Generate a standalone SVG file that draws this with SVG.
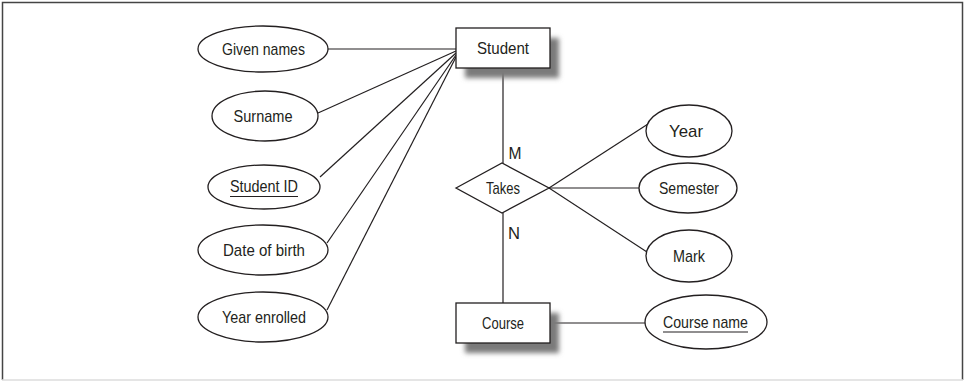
<svg xmlns="http://www.w3.org/2000/svg" width="964" height="381" viewBox="0 0 964 381">
  <defs>
    <filter id="blur" x="-20%" y="-30%" width="140%" height="160%">
      <feGaussianBlur stdDeviation="2.5"/>
    </filter>
    <style>
      .shape { fill: #ffffff; stroke: #231f20; stroke-width: 1.3; }
      .conn { stroke: #231f20; stroke-width: 1.2; fill: none; }
      .lbl { font-family: "Liberation Sans", Arial, sans-serif; font-size: 17px; fill: #231f20; text-anchor: middle; }
      .ul { stroke: #231f20; stroke-width: 1.1; }
      .shadow { fill: #7a7a7a; filter: url(#blur); }
    </style>
  </defs>
  <rect x="0" y="0" width="964" height="381" fill="#ffffff"/>
  <path d="M2.5 380 L2.5 2.5 L962.5 2.5 L962.5 380" fill="none" stroke="#444444" stroke-width="1.5"/>
  <line x1="2" y1="380" x2="963" y2="380" stroke="#dddddd" stroke-width="1.5"/>

  <g id="connectors">
    <line class="conn" x1="328" y1="49" x2="456" y2="49"/>
    <line class="conn" x1="318" y1="113" x2="456" y2="51"/>
    <line class="conn" x1="320" y1="177" x2="456" y2="53"/>
    <line class="conn" x1="327" y1="243" x2="456" y2="55"/>
    <line class="conn" x1="327" y1="310" x2="456" y2="57"/>
    <line class="conn" x1="503" y1="68" x2="503" y2="163"/>
    <line class="conn" x1="503" y1="213" x2="503" y2="303"/>
    <line class="conn" x1="549" y1="188" x2="648" y2="124"/>
    <line class="conn" x1="549" y1="188" x2="639" y2="188"/>
    <line class="conn" x1="549" y1="188" x2="647" y2="252"/>
    <line class="conn" x1="551" y1="323" x2="645" y2="323"/>
    <text class="lbl" x="515" y="159" textLength="13" lengthAdjust="spacingAndGlyphs">M</text>
    <text class="lbl" x="514" y="239" textLength="12" lengthAdjust="spacingAndGlyphs">N</text>
  </g>

  <g id="student">
    <rect class="shadow" x="465" y="38" width="94" height="40"/>
    <rect class="shape" x="456" y="28" width="94" height="40"/>
    <text class="lbl" x="503" y="54" textLength="52" lengthAdjust="spacingAndGlyphs">Student</text>
  </g>

  <g id="course">
    <rect class="shadow" x="465" y="313" width="94" height="40"/>
    <rect class="shape" x="456" y="303" width="94" height="40"/>
    <text class="lbl" x="503" y="329" textLength="42" lengthAdjust="spacingAndGlyphs">Course</text>
  </g>

  <g id="takes">
    <polygon class="shape" points="456,188 502,163 549,188 502,213"/>
    <text class="lbl" x="503" y="194" textLength="34" lengthAdjust="spacingAndGlyphs">Takes</text>
  </g>

  <g id="given-names">
    <ellipse class="shape" cx="263" cy="49" rx="65" ry="23"/>
    <text class="lbl" x="263.5" y="55" textLength="83" lengthAdjust="spacingAndGlyphs">Given names</text>
  </g>

  <g id="surname">
    <ellipse class="shape" cx="265" cy="116" rx="53" ry="25"/>
    <text class="lbl" x="263" y="122" textLength="59" lengthAdjust="spacingAndGlyphs">Surname</text>
  </g>

  <g id="student-id">
    <ellipse class="shape" cx="264" cy="187" rx="56" ry="22"/>
    <text class="lbl" x="264" y="192" textLength="68" lengthAdjust="spacingAndGlyphs">Student ID</text>
    <line class="ul" x1="230" y1="196.5" x2="298" y2="196.5"/>
  </g>

  <g id="date-of-birth">
    <ellipse class="shape" cx="263" cy="250" rx="65" ry="25"/>
    <text class="lbl" x="264" y="256" textLength="82" lengthAdjust="spacingAndGlyphs">Date of birth</text>
  </g>

  <g id="year-enrolled">
    <ellipse class="shape" cx="263" cy="317" rx="65" ry="25"/>
    <text class="lbl" x="264" y="323" textLength="84" lengthAdjust="spacingAndGlyphs">Year enrolled</text>
  </g>

  <g id="year">
    <ellipse class="shape" cx="689" cy="131" rx="43" ry="26"/>
    <text class="lbl" x="686" y="137" textLength="34" lengthAdjust="spacingAndGlyphs">Year</text>
  </g>

  <g id="semester">
    <ellipse class="shape" cx="688" cy="188" rx="49" ry="25"/>
    <text class="lbl" x="689" y="194" textLength="60" lengthAdjust="spacingAndGlyphs">Semester</text>
  </g>

  <g id="mark">
    <ellipse class="shape" cx="689" cy="256" rx="43" ry="26"/>
    <text class="lbl" x="689" y="262" textLength="32" lengthAdjust="spacingAndGlyphs">Mark</text>
  </g>

  <g id="course-name">
    <ellipse class="shape" cx="706" cy="322" rx="61" ry="27"/>
    <text class="lbl" x="705.5" y="328" textLength="85" lengthAdjust="spacingAndGlyphs">Course name</text>
    <line class="ul" x1="663" y1="332" x2="748" y2="332"/>
  </g>
</svg>
